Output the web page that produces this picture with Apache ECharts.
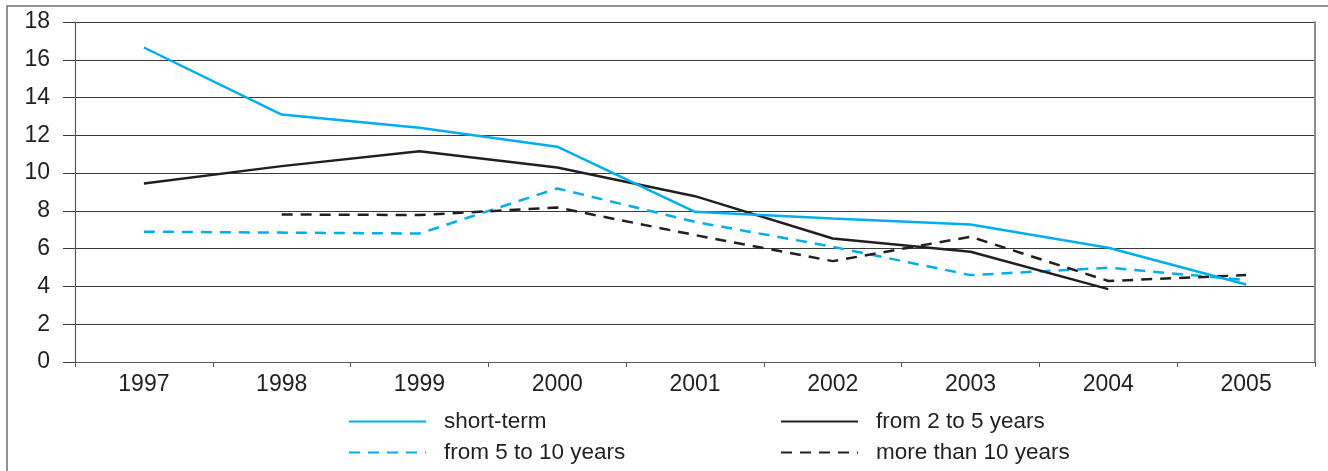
<!DOCTYPE html>
<html>
<head>
<meta charset="utf-8">
<script src="https://cdn.jsdelivr.net/npm/echarts@6/dist/echarts.min.js"></script>
<style>
html,body{margin:0;padding:0;background:#fff;}
#c{width:1328px;height:471px;}
</style>
</head>
<body>
<div id="c"></div>
<script>
const years = ['1997','1998','1999','2000','2001','2002','2003','2004','2005'];
const yTicks = [0, 2, 4, 6, 8, 10, 12, 14, 16, 18];
const shortTerm = [16.65, 13.1, 12.4, 11.4, 7.95, 7.6, 7.28, 6.05, 4.1];
const from2to5 = [9.45, 10.37, 11.16, 10.3, 8.78, 6.54, 5.84, 3.86, null];
const from5to10 = [6.9, 6.85, 6.8, 9.19, 7.42, 6.1, 4.6, 4.99, 4.34];
const moreThan10 = [null, 7.81, 7.78, 8.18, 6.72, 5.34, 6.63, 4.29, 4.6];
const names = ['short-term', 'from 2 to 5 years', 'from 5 to 10 years', 'more than 10 years'];

const BLUE = '#00aeef';
const BLACK = '#231f20';
const FONT = "'Liberation Sans', Arial, Helvetica, sans-serif";

const chart = echarts.init(document.getElementById('c'), null, {renderer: 'canvas'});

function mkLegend(name, left, top) {
  return {
    data: [name], left: left, top: top, padding: 0,
    itemWidth: 77, itemHeight: 14,
    itemStyle: {opacity: 0},
    textStyle: {fontFamily: FONT, fontSize: 22.5, color: BLACK, padding: [0, 0, 0, 13]},
    selectedMode: false
  };
}

function mkSeries(name, data, color, dashed) {
  return {
    name: name, type: 'line', data: data, symbol: 'none', connectNulls: false,
    lineStyle: {color: color, width: 2.5, type: dashed ? [11, 8] : 'solid'},
    itemStyle: {color: color},
    animation: false
  };
}

chart.setOption({
  animation: false,
  graphic: [{
    type: 'rect', shape: {x: 7, y: 6, width: 1500, height: 700},
    style: {fill: 'none', stroke: '#6d6e70', lineWidth: 1.5}, silent: true
  }],
  legend: [
    mkLegend(names[0], 348, 410),
    mkLegend(names[1], 780, 410),
    mkLegend(names[2], 348, 441),
    mkLegend(names[3], 780, 441)
  ],
  grid: {left: 75, right: 13, top: 22, bottom: 109, containLabel: false},
  xAxis: {
    type: 'category', data: years, boundaryGap: true,
    axisLine: {show: true, lineStyle: {color: '#58595b', width: 1.2}},
    axisTick: {show: true, length: 5, alignWithLabel: false, lineStyle: {color: '#58595b'}},
    axisLabel: {fontFamily: FONT, fontSize: 23, color: BLACK, margin: 11}
  },
  yAxis: [{
    type: 'value', min: 0, max: 18, interval: 2,
    axisLine: {show: true, lineStyle: {color: '#58595b', width: 1.2}},
    axisTick: {show: true, length: 12, lineStyle: {color: '#3a3a3a'}},
    axisLabel: {fontFamily: FONT, fontSize: 23, color: BLACK, margin: 25,
      formatter: function (v) { return yTicks.indexOf(v) >= 0 ? String(v) : ''; }},
    splitLine: {show: true, lineStyle: {color: '#3a3a3a', width: 1}}
  }, {
    type: 'value', min: 0, max: 18, interval: 2, position: 'right',
    axisLine: {show: true, lineStyle: {color: '#8a8a8a', width: 2}},
    axisTick: {show: false}, axisLabel: {show: false}, splitLine: {show: false}
  }],
  series: [
    mkSeries(names[2], from5to10, BLUE, true),
    mkSeries(names[3], moreThan10, BLACK, true),
    mkSeries(names[1], from2to5, BLACK, false),
    mkSeries(names[0], shortTerm, BLUE, false)
  ]
});
</script>
</body>
</html>
